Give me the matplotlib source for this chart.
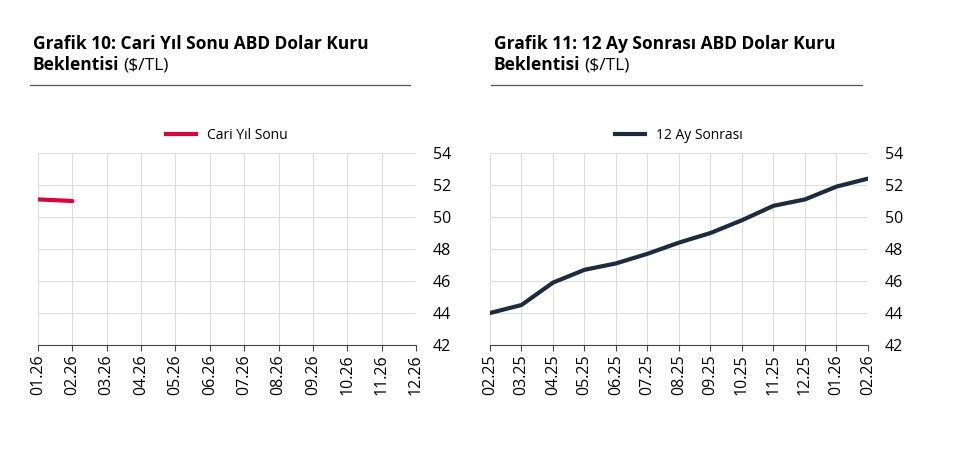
import matplotlib
matplotlib.use("Agg")
import matplotlib.pyplot as plt
from matplotlib.lines import Line2D

plt.rcParams['font.family'] = ['Open Sans', 'DejaVu Sans']

left_labels = ["01.26","02.26","03.26","04.26","05.26","06.26","07.26","08.26","09.26","10.26","11.26","12.26"]
left_values = [51.1, 51.0]
right_labels = ["02.25","03.25","04.25","05.25","06.25","07.25","08.25","09.25","10.25","11.25","12.25","01.26","02.26"]
right_values = [44.0, 44.5, 45.9, 46.7, 47.1, 47.7, 48.4, 49.0, 49.8, 50.7, 51.1, 51.9, 52.4]
yticks = [42, 44, 46, 48, 50, 52, 54]

W, H = 970, 457
fig = plt.figure(figsize=(W/100, H/100), dpi=100)

def setup(ax, labels, values, color, name):
    ax.plot(range(len(values)), values, color=color, lw=3, solid_capstyle='round')
    ax.set_xlim(0, len(labels)-1)
    ax.set_ylim(42, 54)
    ax.set_xticks(range(len(labels)))
    ax.set_xticklabels(labels, rotation=90, fontsize=11.5)
    ax.set_yticks(yticks)
    ax.yaxis.tick_right()
    ax.tick_params(axis='y', labelsize=11.5, length=0, pad=12)
    ax.tick_params(axis='x', length=4, color='#444444', pad=3)
    ax.grid(True, color='#dddddd', lw=0.8)
    for s in ['top', 'right', 'left']:
        ax.spines[s].set_visible(False)
    ax.spines['bottom'].set_color('#444444')
    ax.legend([Line2D([0], [0], color=color, lw=3)], [name], loc='lower center',
              bbox_to_anchor=(0.5, 1.0), frameon=False, fontsize=10, handlelength=2.2,
              borderaxespad=0.3)

ax1 = fig.add_axes([38/W, 1-345/H, 378/W, 192/H])
setup(ax1, left_labels, left_values, '#d7063b', 'Cari Yıl Sonu')
ax2 = fig.add_axes([490/W, 1-345/H, 378/W, 192/H])
setup(ax2, right_labels, right_values, '#1c2b3e', '12 Ay Sonrası')

def title(x, l1, x2end):
    fig.text(x/W, 1-44/H, l1, fontsize=12.5, fontweight='bold', va='center')
    t = fig.text(x/W, 1-65/H, "Beklentisi", fontsize=12.5, fontweight='bold', va='center')
    fig.canvas.draw()
    bb = t.get_window_extent()
    fig.text(bb.x1/W + 4/W, 1-65/H, "($/TL)", fontsize=12.5, va='center')
    fig.add_artist(Line2D([(x-3)/W, x2end/W], [1-85/H, 1-85/H], color='#555555', lw=0.9))

title(33, "Grafik 10: Cari Yıl Sonu ABD Dolar Kuru", 410)
title(494, "Grafik 11: 12 Ay Sonrası ABD Dolar Kuru", 862)

fig.savefig("out.png", dpi=100)
